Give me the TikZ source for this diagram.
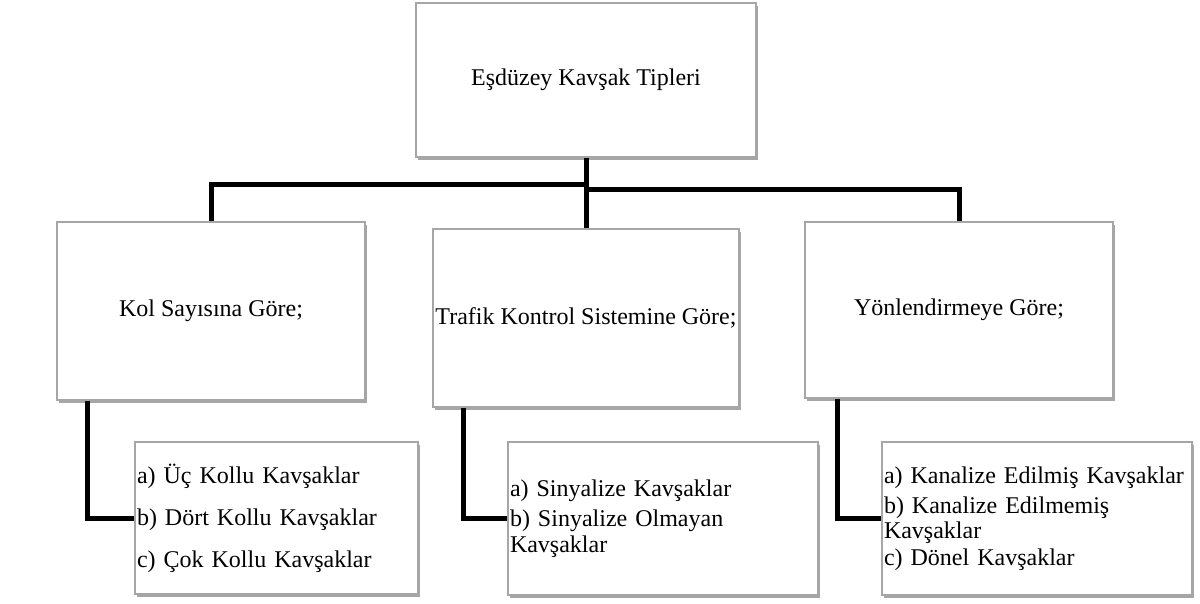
\documentclass[tikz,border=0pt]{standalone}
\usepackage{fontspec}
\setmainfont{Liberation Serif}
\usetikzlibrary{shadows}
\tikzset{
  box/.style={draw=gray!70, line width=0.6pt, fill=white, inner sep=1pt,
    font=\fontsize{12}{14}\selectfont,
    drop shadow={shadow xshift=1.2pt, shadow yshift=-1.5pt, opacity=0.35, fill=black}},
  link/.style={line width=2.5pt}
}
\begin{document}
\begin{tikzpicture}[x=0.5pt,y=-0.5pt]
\useasboundingbox (0,0) rectangle (1200,604);
% ust kutu
\node[box, minimum width=170pt, minimum height=77pt] (top) at (586,80) {Eşdüzey Kavşak Tipleri};
% orta sira
\node[box, minimum width=154pt, minimum height=89pt] (kol) at (211,311) {Kol Sayısına Göre;};
\node[box, minimum width=153pt, minimum height=89pt] (tra) at (586,318) {Trafik Kontrol Sistemine Göre;};
\node[box, minimum width=154pt, minimum height=88pt] (yon) at (959,310) {Yönlendirmeye Göre;};
% alt sira
\node[box, minimum width=141.5pt, minimum height=76pt, text width=139.5pt, align=left] (uc) at (276.5,518)
  {a) Üç Kollu Kavşaklar\\[7pt] b) Dört Kollu Kavşaklar\\[7pt] c) Çok Kollu Kavşaklar};
\node[box, minimum width=155pt, minimum height=76.5pt, text width=153pt, align=left] (sin) at (663,518.5)
  {a) Sinyalize Kavşaklar\\[1pt] b) Sinyalize Olmayan\\[-1pt] Kavşaklar};
\node[box, minimum width=155pt, minimum height=76.5pt, text width=153pt, align=left] (kan) at (1037,518.5)
  {a) Kanalize Edilmiş Kavşaklar\\[1pt] b) Kanalize Edilmemiş\\[-1.5pt] Kavşaklar\\[-0.5pt] c) Dönel Kavşaklar};
% baglantilar
\draw[link] (top.south) -- (tra.north);
\draw[link] (top.south |- 0,185) -| (kol.north);
\draw[link] (top.south |- 0,190) -| (yon.north);
\draw[link] ([xshift=15.5pt]kol.south west) |- (uc.west);
\draw[link] ([xshift=15.5pt]tra.south west) |- (sin.west);
\draw[link] ([xshift=16.5pt]yon.south west) |- (kan.west);
\end{tikzpicture}
\end{document}
